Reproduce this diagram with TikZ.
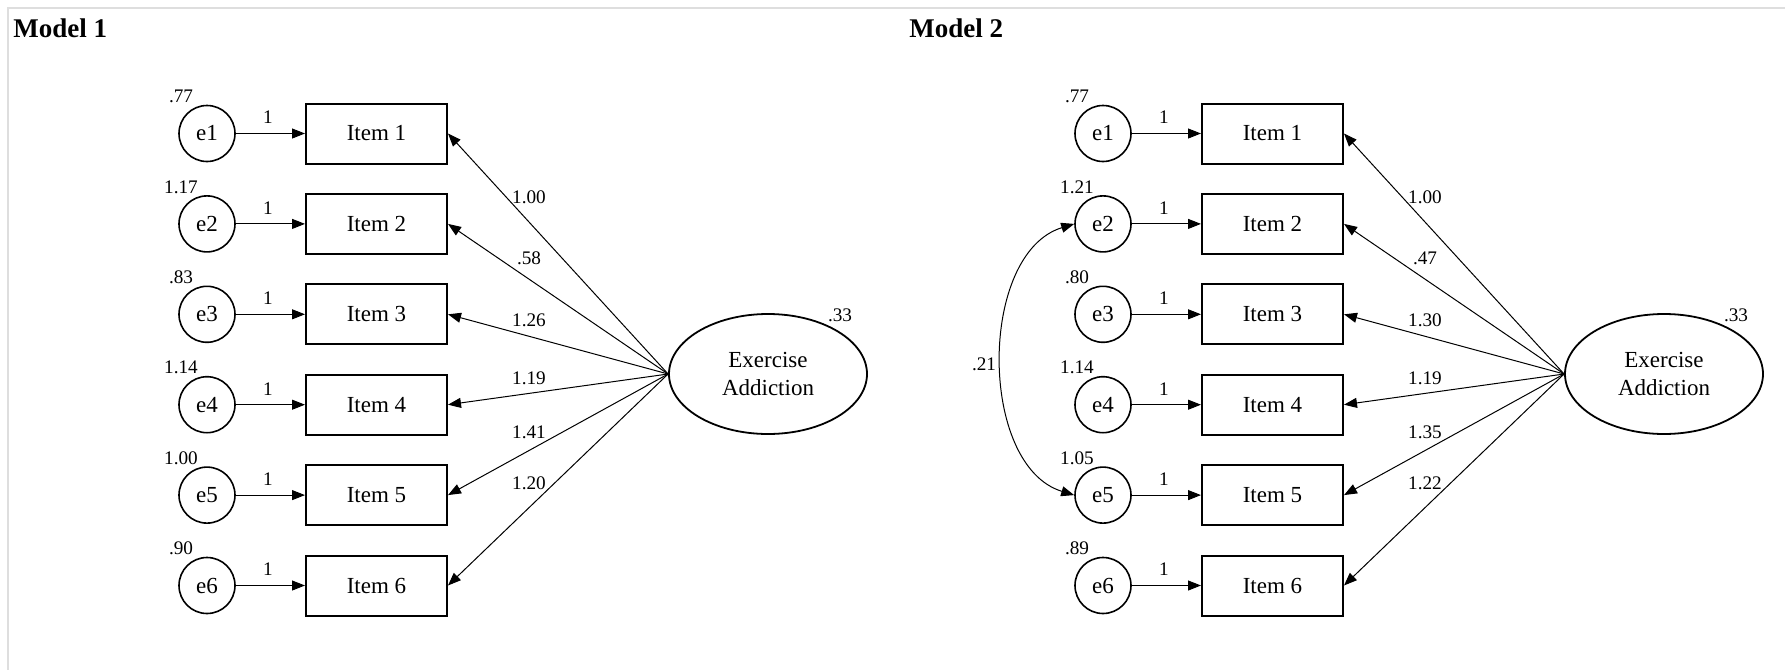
\documentclass[tikz,border=0pt]{standalone}
\usepackage{fontspec}
\setmainfont{Liberation Serif}
\usetikzlibrary{arrows.meta,shapes.geometric}
\tikzset{
 err/.style={circle,draw,line width=0.8pt,minimum size=28pt,inner sep=0pt,font=\fontsize{11.5}{13}\selectfont},
 itembox/.style={rectangle,draw,line width=1pt,minimum width=70.5pt,minimum height=30pt,inner sep=0pt,font=\fontsize{11.5}{13}\selectfont},
 lat/.style={ellipse,draw,line width=0.9pt,minimum width=99pt,minimum height=60pt,inner sep=0pt,align=center,font=\fontsize{11.5}{14}\selectfont},
 lbl/.style={inner sep=0pt,font=\fontsize{9.6}{11}\selectfont},
 ttl/.style={inner sep=0pt,anchor=west,font=\bfseries\fontsize{13.5}{15}\selectfont},
 arr/.style={-{Triangle[length=6.5pt,width=5pt]},line width=0.5pt},
 dblarr/.style={{Triangle[length=6.5pt,width=5pt]}-{Triangle[length=6.5pt,width=5pt]},line width=0.5pt},
 framerule/.style={draw=black!13,line width=0.6pt}
}
\newcommand{\semmodel}[4]{%
\begin{scope}[shift={(#2,0)}]
 \node[ttl] (#1t) at (13,28) {#3};
 \node[lat] (#1f) at (768,374) {Exercise\\Addiction};
 \node[lbl] (#1fv) at (840,315) {.33};
 \foreach \k/\v/\l/\ly in {#4} {
   \pgfmathsetmacro\yy{133.5+90.4*(\k-1)}
   \node[err] (#1e\k) at (207,\yy) {e\k};
   \node[itembox] (#1i\k) at (376.5,\yy) {Item \k};
   \node[lbl] (#1v\k) at (181,\yy-37) {\v};
   \node[lbl] (#1o\k) at (268,\yy-16) {1};
   \node[lbl] (#1l\k) at (529,\ly) {\l};
   \draw[arr] (#1e\k) -- (#1i\k);
   \draw[arr] (#1f.west) -- (#1i\k.east);
 }
\end{scope}}
\begin{document}
\begin{tikzpicture}[x=0.5pt,y=-0.5pt]
\useasboundingbox (0,0) rectangle (1785,670);
\draw[framerule] (8,670) -- (8,8) -- (1785,8);
\semmodel{ma}{0}{Model 1}{1/.77/1.00/197, 2/1.17/.58/258, 3/.83/1.26/320, 4/1.14/1.19/378, 5/1.00/1.41/432, 6/.90/1.20/483}
\semmodel{mb}{896}{Model 2}{1/.77/1.00/197, 2/1.21/.47/258, 3/.80/1.30/320, 4/1.14/1.19/378, 5/1.05/1.35/432, 6/.89/1.22/483}
\draw[dblarr] (mbe2.west) to[out=197,in=163,looseness=0.95] (mbe5.west);
\node[lbl] (mbcov) at (984,364) {.21};
\end{tikzpicture}
\end{document}
